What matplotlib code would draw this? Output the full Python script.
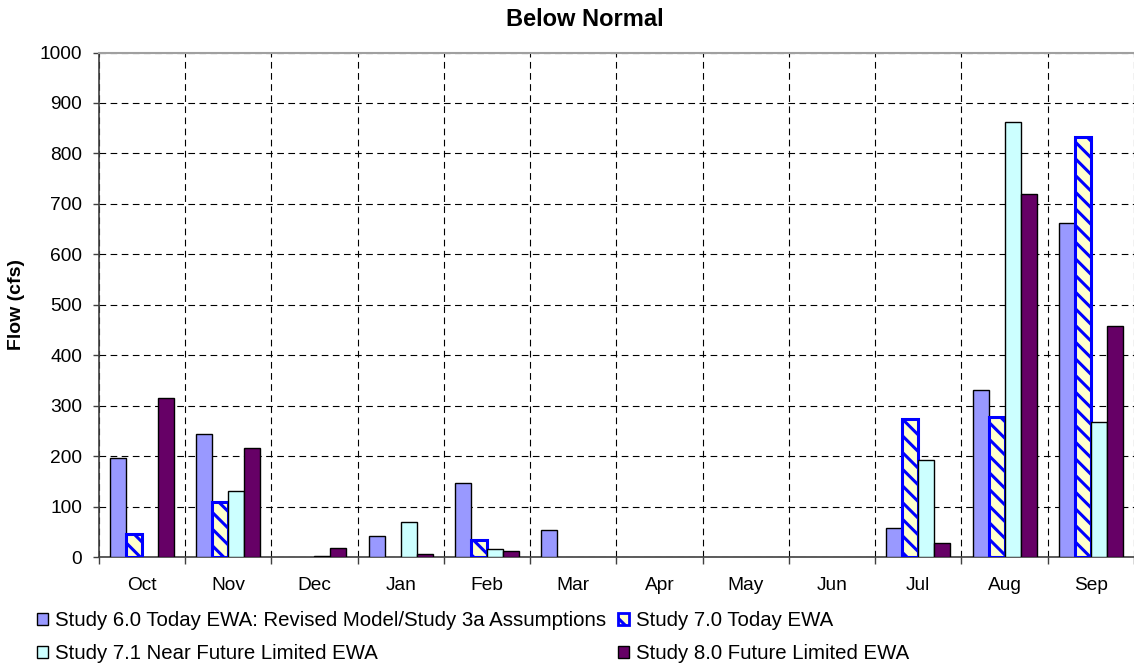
import numpy as np
import matplotlib
matplotlib.use("Agg")
import matplotlib.pyplot as plt
from matplotlib.patches import Patch

months = ["Oct", "Nov", "Dec", "Jan", "Feb", "Mar", "Apr", "May", "Jun", "Jul", "Aug", "Sep"]
study_60 = [196, 245, 0, 43, 147, 55, 0, 0, 0, 58, 331, 663]
study_70 = [47, 110, 0, 0, 34, 0, 0, 0, 0, 273, 277, 833]
study_71 = [0, 131, 3, 69, 16, 0, 0, 0, 0, 193, 863, 268]
study_80 = [315, 217, 18, 6, 12, 0, 0, 0, 0, 28, 719, 459]
labels = ["Study 6.0 Today EWA: Revised Model/Study 3a Assumptions",
          "Study 7.0 Today EWA",
          "Study 7.1 Near Future Limited EWA",
          "Study 8.0 Future Limited EWA"]
yticks = list(range(0, 1001, 100))

plt.rcParams['font.family'] = ['Liberation Sans', 'DejaVu Sans']
plt.rcParams['hatch.linewidth'] = 2.2

W, H = 1134, 667
fig = plt.figure(figsize=(W / 100, H / 100), dpi=100)
left_px, right_px, top_px, bot_px = 98.7, 1134, 52.5, 557.3
ax = fig.add_axes([left_px / W, (H - bot_px) / H, (right_px - left_px) / W, (bot_px - top_px) / H])

x = np.arange(len(months))
w = 0.185
offs = np.array([-1.5, -0.5, 0.5, 1.5]) * w

styles = [
    dict(color="#9999FF", edgecolor="black", linewidth=1.0),
    dict(color="#FFFFCC", edgecolor="#0000FF", linewidth=2.2, hatch="\\\\"),
    dict(color="#CCFFFF", edgecolor="black", linewidth=1.0),
    dict(color="#660066", edgecolor="black", linewidth=1.0),
]
series = [study_60, study_70, study_71, study_80]
for vals, off, st in zip(series, offs, styles):
    v = np.array(vals, dtype=float)
    m = v > 0
    ax.bar(x[m] + off, v[m], w, zorder=3, **st)

ax.set_xlim(-0.5, len(months) - 0.5)
ax.set_ylim(0, 1000)
ax.set_yticks(yticks)
ax.tick_params(axis='y', labelsize=13.8, length=4, pad=8, direction='out', width=1, color='#404040')

ax.set_xticks(np.arange(-0.5, len(months) + 0.5, 1.0))
ax.set_xticklabels([])
ax.set_xticks(x, minor=True)
ax.set_xticklabels(months, minor=True)
ax.tick_params(axis='x', which='major', length=5, direction='out', width=1, color='#404040')
ax.tick_params(axis='x', which='minor', length=0, pad=14, labelsize=13.8)

ax.grid(True, which='major', color='black', linestyle=(0, (6, 4)), linewidth=0.8, zorder=0)
ax.set_axisbelow(True)

ax.spines['right'].set_visible(False)
ax.spines['top'].set_color('#A0A0A0')
ax.spines['top'].set_linewidth(1.5)
ax.spines['top'].set_zorder(4)
for s in ['left', 'bottom']:
    ax.spines[s].set_color('#404040')
    ax.spines[s].set_linewidth(1.2)

ax.set_ylabel("Flow (cfs)", fontsize=14, fontweight='bold')
ax.yaxis.set_label_coords((25 - left_px) / (right_px - left_px), 0.5)
ax.set_title("Below Normal", fontsize=17, fontweight='bold', pad=19,
             x=(584.5 - left_px) / (right_px - left_px))

h60 = Patch(facecolor="#9999FF", edgecolor="black", linewidth=1.0)
h70 = Patch(facecolor="#FFFFCC", edgecolor="#0000FF", linewidth=2.0, hatch="\\\\")
h71 = Patch(facecolor="#CCFFFF", edgecolor="black", linewidth=1.0)
h80 = Patch(facecolor="#660066", edgecolor="black", linewidth=1.0)

leg_kw = dict(loc='upper left', frameon=False, fontsize=14.7, handlelength=0.55,
              handleheight=0.55, handletextpad=0.33, labelspacing=0.68,
              borderpad=0, borderaxespad=0)
fig.legend([h60, h71], [labels[0], labels[2]],
           bbox_to_anchor=(37 / W, 1 - 611 / H), **leg_kw)
fig.legend([h70, h80], [labels[1], labels[3]],
           bbox_to_anchor=(618 / W, 1 - 611 / H), **leg_kw)

fig.savefig("out.png", dpi=100)
